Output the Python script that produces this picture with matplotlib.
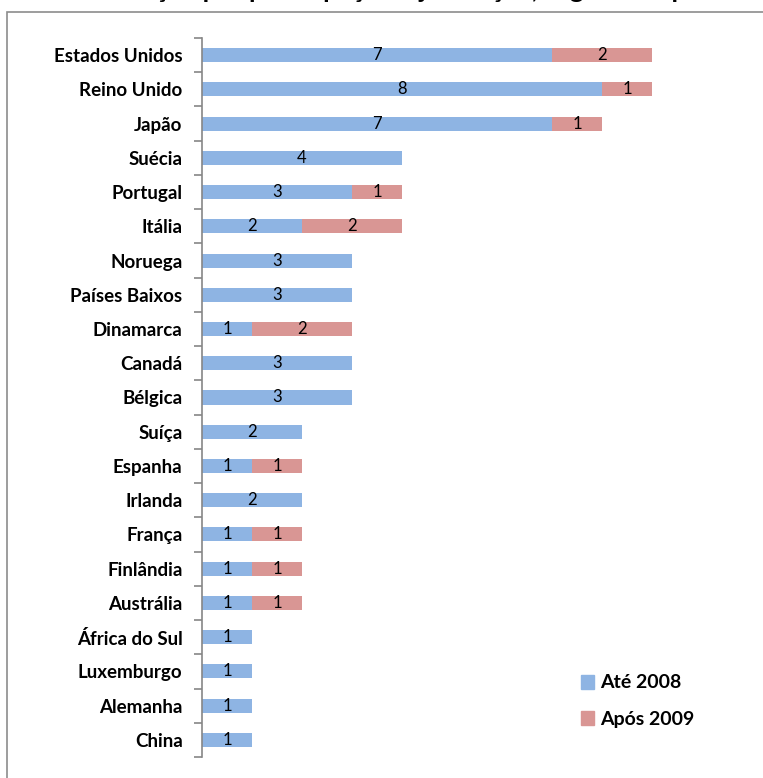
import matplotlib.pyplot as plt
from matplotlib.patches import Rectangle, Patch

# countries, top to bottom
paises = ["Estados Unidos", "Reino Unido", "Japão", "Suécia", "Portugal", "Itália",
          "Noruega", "Países Baixos", "Dinamarca", "Canadá", "Bélgica", "Suíça",
          "Espanha", "Irlanda", "França", "Finlândia", "Austrália", "África do Sul",
          "Luxemburgo", "Alemanha", "China"]
ate_2008 = [7, 8, 7, 4, 3, 2, 3, 3, 1, 3, 3, 2, 1, 2, 1, 1, 1, 1, 1, 1, 1]
apos_2009 = [2, 1, 1, 0, 1, 2, 0, 0, 2, 0, 0, 0, 1, 0, 1, 1, 1, 0, 0, 0, 0]
series_names = ["Até 2008", "Após 2009"]
titulo = "Distribuição por participação e jurisdição, segundo o período por país"

plt.rcParams['font.family'] = ['Lato', 'DejaVu Sans']
azul = "#8EB4E3"
rosa = "#D99694"

W, H = 763, 778
fig = plt.figure(figsize=(W / 100, H / 100), dpi=100)

# outer chart border (runs off the right and bottom edges)
fig.patches.append(Rectangle((7 / W, -0.05), 1.2, 1 - 12 / H + 0.05, transform=fig.transFigure,
                             fill=False, edgecolor="#8c8c8c", linewidth=1.2))
# title sits above the visible area, only descenders show, as in the original
fig.text(0.6, 1 + 2.5 / H, titulo, ha="center", va="baseline", fontsize=19, fontweight="bold")

ax = fig.add_axes([202 / W, 1 - 757 / H, 550 / W, (757 - 38) / H])
n = len(paises)
ypos = list(range(n))
h = 0.41
b1 = ax.barh(ypos, ate_2008, height=h, color=azul)
b2 = ax.barh(ypos, apos_2009, left=ate_2008, height=h, color=rosa)

for bars, vals in ((b1, ate_2008), (b2, apos_2009)):
    for bar, v in zip(bars, vals):
        if v > 0:
            ax.text(bar.get_x() + bar.get_width() / 2, bar.get_y() + bar.get_height() / 2, str(v),
                    ha="center", va="center", fontsize=12)

ax.set_xlim(0, 11)
ax.set_ylim(n - 0.5, -0.5)
ax.set_yticks(ypos)
ax.set_yticklabels(paises, fontsize=13.5, fontweight="bold")
ax.set_yticks([i - 0.5 for i in range(n + 1)], minor=True)
ax.tick_params(axis="y", which="major", length=0, pad=14)
ax.tick_params(axis="y", which="minor", length=6, color="#868686", width=1.2)
ax.set_xticks([])
for s in ("top", "right", "bottom"):
    ax.spines[s].set_visible(False)
ax.spines["left"].set_color("#868686")
ax.spines["left"].set_linewidth(1.2)

handles = [Patch(color=azul), Patch(color=rosa)]
fig.legend(handles, series_names, loc="upper left", bbox_to_anchor=(563 / W, 1 - 657 / H),
           frameon=False, prop={"weight": "bold", "size": 14}, handlelength=0.7, handleheight=0.7,
           handletextpad=0.3, labelspacing=1.0)

fig.savefig("out.png", dpi=100)
